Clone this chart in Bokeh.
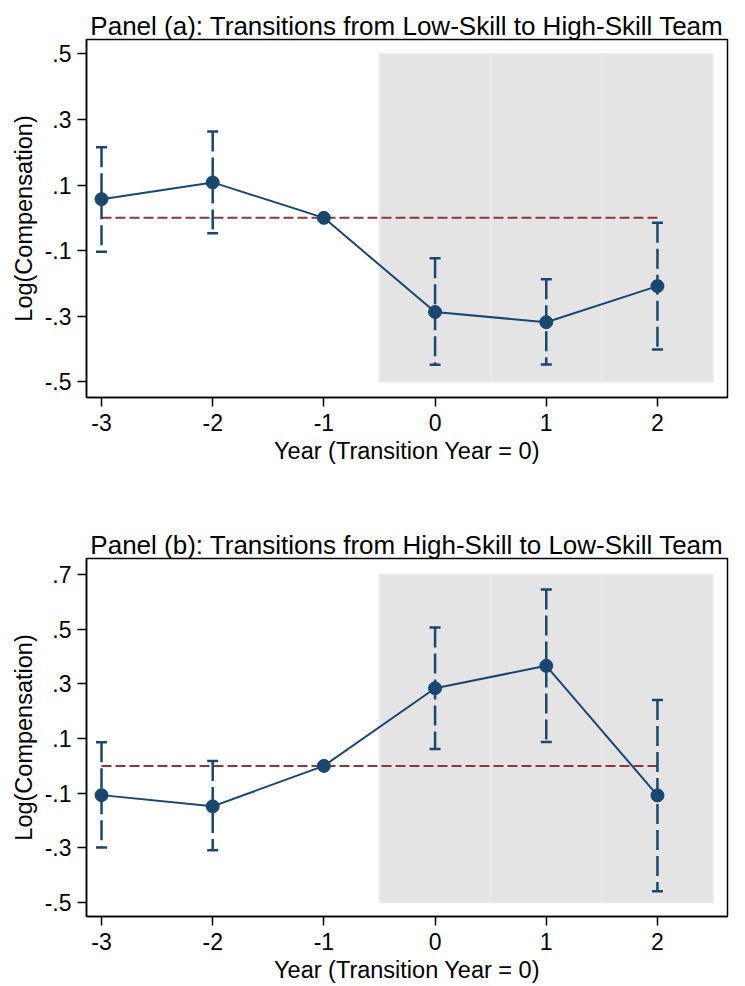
from bokeh.plotting import figure
from bokeh.layouts import column
from bokeh.models import FixedTicker, Range1d
from bokeh.embed import file_html
from bokeh.resources import INLINE

# ---------------- data ----------------
years = [-3, -2, -1, 0, 1, 2]
post_years = [0, 1, 2]
ref_year = -1
ref_value = 0.0

a_title = "Panel (a): Transitions from Low-Skill to High-Skill Team"
a_coef = [0.057, 0.108, 0.0, -0.287, -0.318, -0.208]
a_upper = [0.215, 0.263, 0.0, -0.123, -0.187, -0.015]
a_lower = [-0.103, -0.047, 0.0, -0.448, -0.447, -0.401]
a_yticks = [-0.5, -0.3, -0.1, 0.1, 0.3, 0.5]
a_ytick_labels = ["-.5", "-.3", "-.1", ".1", ".3", ".5"]

b_title = "Panel (b): Transitions from High-Skill to Low-Skill Team"
b_coef = [-0.107, -0.148, 0.0, 0.284, 0.366, -0.108]
b_upper = [0.086, 0.018, 0.0, 0.506, 0.645, 0.241]
b_lower = [-0.299, -0.309, 0.0, 0.062, 0.087, -0.459]
b_yticks = [-0.5, -0.3, -0.1, 0.1, 0.3, 0.5, 0.7]
b_ytick_labels = ["-.5", "-.3", "-.1", ".1", ".3", ".5", ".7"]

xticks = [-3, -2, -1, 0, 1, 2]
xtick_labels = ["-3", "-2", "-1", "0", "1", "2"]
x_label = "Year (Transition Year = 0)"
y_label = "Log(Compensation)"

# ---------------- style ----------------
FONT = "Liberation Sans"
NAVY = "#1a476f"
MAROON = "#90353b"
SHADE = "#e4e4e4"
W = 729


def make_panel(title, coef, upper, lower, yticks, ylabels, yr, height, btop, bbot):
    p = figure(width=W, height=height, output_backend="svg", toolbar_location=None,
               x_range=Range1d(-3.135, 2.63), y_range=Range1d(*yr),
               min_border_left=86, min_border_right=W - 727,
               min_border_top=btop, min_border_bottom=bbot)
    p.title.text = title
    p.title.align = "center"
    p.title.text_font = FONT
    p.title.text_font_size = "26px"
    p.title.text_font_style = "normal"
    p.title.text_color = "black"
    p.title.standoff = -3
    p.title.offset = 0

    p.xgrid.visible = False
    p.ygrid.visible = False
    p.background_fill_color = "white"
    p.border_fill_color = "white"
    p.outline_line_color = "black"
    p.outline_line_width = 1.5

    # shaded post-transition years
    ymin, ymax = min(yticks), max(yticks)
    p.quad(left=[y - 0.5 for y in post_years], right=[y + 0.5 for y in post_years],
           bottom=[ymin] * len(post_years), top=[ymax] * len(post_years),
           fill_color=SHADE, line_color="#ebebeb", line_width=1.5)

    # reference line at zero
    p.line(x=[min(years), max(years)], y=[ref_value, ref_value],
           line_color=MAROON, line_width=2, line_dash="10 4")

    # confidence intervals (skip reference year)
    idx = [i for i, y in enumerate(years) if y != ref_year]
    xs = [years[i] for i in idx]
    up = [upper[i] for i in idx]
    lo = [lower[i] for i in idx]
    p.segment(x0=xs, y0=up, x1=xs, y1=lo, line_color=NAVY, line_width=2.5,
              line_dash="20 6")
    p.scatter(x=xs + xs, y=up + lo, marker="dash", size=11, line_color=NAVY,
              line_width=2.5)

    # estimates
    p.line(x=years, y=coef, line_color=NAVY, line_width=2)
    p.scatter(x=years, y=coef, size=13, fill_color=NAVY, line_color=NAVY)

    for ax in (p.xaxis[0], p.yaxis[0]):
        ax.axis_line_color = "black"
        ax.axis_line_width = 1.5
        ax.major_tick_line_color = "black"
        ax.major_tick_line_width = 1.5
        ax.major_tick_out = 9
        ax.major_tick_in = 0
        ax.minor_tick_line_color = None
        ax.major_label_text_font = FONT
        ax.major_label_text_font_size = "23px"
        ax.major_label_text_color = "black"
        ax.axis_label_text_font = FONT
        ax.axis_label_text_font_size = "23.5px"
        ax.axis_label_text_font_style = "normal"
        ax.axis_label_text_color = "black"

    p.xaxis.ticker = FixedTicker(ticks=xticks)
    p.xaxis.major_label_overrides = {t: l for t, l in zip(xticks, xtick_labels)}
    p.xaxis.axis_label = x_label
    p.xaxis.major_label_standoff = 7
    p.xaxis.axis_label_standoff = 4

    p.yaxis.ticker = FixedTicker(ticks=yticks)
    p.yaxis.major_label_overrides = {t: l for t, l in zip(yticks, ylabels)}
    p.yaxis.axis_label = y_label
    p.yaxis.major_label_standoff = 6
    p.yaxis.axis_label_standoff = 5
    return p


pa = make_panel(a_title, a_coef, a_upper, a_lower, a_yticks, a_ytick_labels,
                (-0.5475, 0.5435), 488, 39, 91)
pb = make_panel(b_title, b_coef, b_upper, b_lower, b_yticks, b_ytick_labels,
                (-0.551, 0.7586), 500, 70, 72)

layout = column(pa, pb, spacing=0)
open("out.html", "w").write(file_html(layout, INLINE))
